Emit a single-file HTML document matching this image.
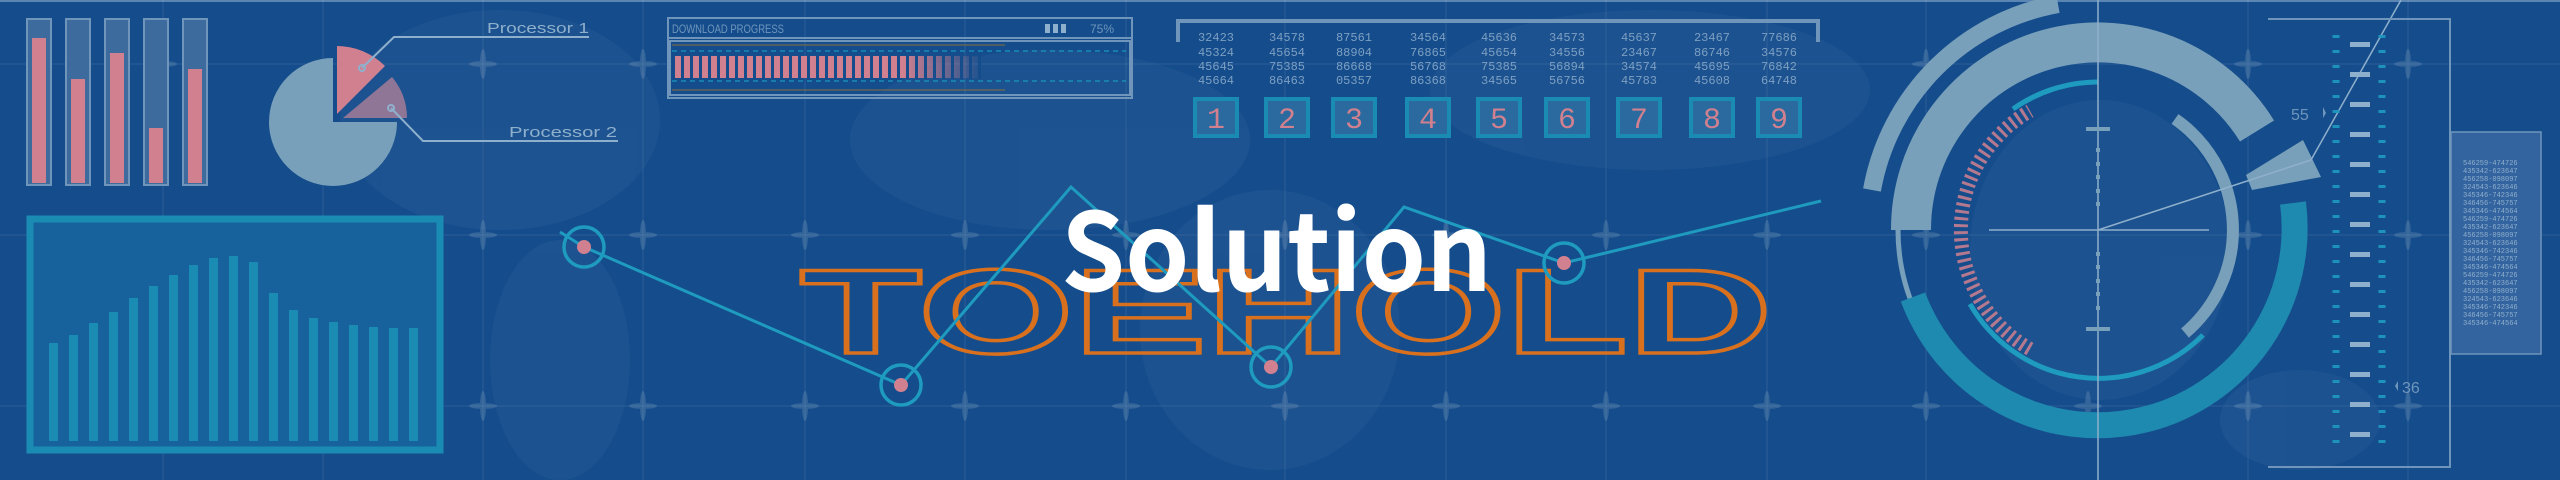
<!DOCTYPE html>
<html><head><meta charset="utf-8"><style>
html,body{margin:0;padding:0;background:#154d8c;}
svg{display:block;}
</style></head><body>
<svg width="2560" height="480" viewBox="0 0 2560 480" xmlns="http://www.w3.org/2000/svg" font-family="Liberation Sans, sans-serif">
<rect width="2560" height="480" fill="#154d8c"/>
<!-- faint map blobs -->
<g fill="#ffffff" opacity="0.03">
<ellipse cx="500" cy="120" rx="160" ry="110"/>
<ellipse cx="560" cy="360" rx="70" ry="120"/>
<ellipse cx="1050" cy="140" rx="200" ry="90"/>
<ellipse cx="1270" cy="330" rx="130" ry="140"/>
<ellipse cx="1650" cy="90" rx="220" ry="80"/>
<ellipse cx="2100" cy="250" rx="130" ry="150"/>
<ellipse cx="2300" cy="420" rx="80" ry="50"/>
</g>
<rect x="0" y="0" width="2560" height="2" fill="#5b86b4"/>
<!-- grid -->
<g stroke="#ffffff" stroke-opacity="0.09" stroke-width="1">
<line x1="0" y1="64" x2="2560" y2="64"/><line x1="0" y1="235" x2="2560" y2="235"/><line x1="0" y1="406" x2="2560" y2="406"/>
<line x1="163" y1="0" x2="163" y2="480"/><line x1="323" y1="0" x2="323" y2="480"/><line x1="483" y1="0" x2="483" y2="480"/><line x1="643" y1="0" x2="643" y2="480"/><line x1="805" y1="0" x2="805" y2="480"/><line x1="965" y1="0" x2="965" y2="480"/><line x1="1126" y1="0" x2="1126" y2="480"/><line x1="1285" y1="0" x2="1285" y2="480"/><line x1="1446" y1="0" x2="1446" y2="480"/><line x1="1606" y1="0" x2="1606" y2="480"/><line x1="1767" y1="0" x2="1767" y2="480"/><line x1="1926" y1="0" x2="1926" y2="480"/><line x1="2098" y1="0" x2="2098" y2="480"/><line x1="2248" y1="0" x2="2248" y2="480"/><line x1="2408" y1="0" x2="2408" y2="480"/>
</g>
<defs>
<g id="st"><ellipse cx="0" cy="0" rx="14" ry="3"/><ellipse cx="0" cy="0" rx="3" ry="15"/></g>
<linearGradient id="pg" x1="0" x2="1"><stop offset="0" stop-color="#d0808f"/><stop offset="0.75" stop-color="#d0808f"/><stop offset="1" stop-color="#d0808f" stop-opacity="0"/></linearGradient>
</defs>
<g fill="#ffffff" opacity="0.13">
<use href="#st" x="163" y="64"/><use href="#st" x="483" y="64"/><use href="#st" x="643" y="64"/><use href="#st" x="163" y="235"/><use href="#st" x="323" y="235"/><use href="#st" x="483" y="235"/><use href="#st" x="643" y="235"/><use href="#st" x="483" y="406"/><use href="#st" x="643" y="406"/><use href="#st" x="163" y="406"/><use href="#st" x="323" y="406"/>
<use href="#st" x="805" y="235"/><use href="#st" x="965" y="235"/><use href="#st" x="1126" y="235"/><use href="#st" x="1285" y="235"/><use href="#st" x="1446" y="235"/><use href="#st" x="1606" y="235"/><use href="#st" x="1767" y="235"/>
<use href="#st" x="805" y="406"/><use href="#st" x="965" y="406"/><use href="#st" x="1126" y="406"/><use href="#st" x="1285" y="406"/><use href="#st" x="1446" y="406"/><use href="#st" x="1606" y="406"/><use href="#st" x="1767" y="406"/>
<use href="#st" x="1926" y="64"/><use href="#st" x="2248" y="64"/><use href="#st" x="2408" y="64"/><use href="#st" x="1926" y="235"/><use href="#st" x="2248" y="235"/><use href="#st" x="2408" y="235"/><use href="#st" x="1926" y="406"/><use href="#st" x="2248" y="406"/><use href="#st" x="2408" y="406"/><use href="#st" x="2088" y="406"/>
</g>

<!-- left bars -->
<g fill="#3d6b9d" stroke="#6f95bb" stroke-width="2">
<rect x="27" y="19" width="24" height="166"/><rect x="66" y="19" width="24" height="166"/><rect x="105" y="19" width="24" height="166"/><rect x="144" y="19" width="24" height="166"/><rect x="183" y="19" width="24" height="166"/>
</g>
<g fill="#d0808f">
<rect x="32" y="38" width="14" height="145"/><rect x="71" y="79" width="14" height="104"/><rect x="110" y="53" width="14" height="130"/><rect x="149" y="128" width="14" height="55"/><rect x="188" y="69" width="14" height="114"/>
</g>

<!-- pie -->
<path d="M333,122 L397,122 A64,64 0 1 1 333,58 Z" fill="#79a0ba"/>
<path d="M337,114 L337,46 A68,68 0 0 1 385,66 Z" fill="#d0808f"/>
<path d="M343,118 L392,77 A64,64 0 0 1 407,118 Z" fill="#8f7596"/>
<g stroke="#8fb0cc" stroke-width="2" fill="none">
<polyline points="362,68 394,37 589,37"/><circle cx="362" cy="68" r="3"/>
<polyline points="391,108 423,141 618,141"/><circle cx="391" cy="108" r="3"/>
</g>
<g fill="#8fb0cc" font-size="15">
<text x="487" y="33" textLength="102" lengthAdjust="spacingAndGlyphs">Processor 1</text>
<text x="509" y="137" textLength="108" lengthAdjust="spacingAndGlyphs">Processor 2</text>
</g>

<!-- area chart -->
<rect x="30" y="219" width="410" height="231" fill="#17629c" stroke="#1a8cb4" stroke-width="7"/>
<g fill="#1a8cb4">
<rect x="49" y="343" width="9" height="98"/><rect x="69" y="335" width="9" height="106"/><rect x="89" y="323" width="9" height="118"/><rect x="109" y="312" width="9" height="129"/><rect x="129" y="298" width="9" height="143"/><rect x="149" y="286" width="9" height="155"/><rect x="169" y="275" width="9" height="166"/><rect x="189" y="265" width="9" height="176"/><rect x="209" y="258" width="9" height="183"/><rect x="229" y="256" width="9" height="185"/><rect x="249" y="262" width="9" height="179"/><rect x="269" y="293" width="9" height="148"/><rect x="289" y="310" width="9" height="131"/><rect x="309" y="318" width="9" height="123"/><rect x="329" y="322" width="9" height="119"/><rect x="349" y="325" width="9" height="116"/><rect x="369" y="327" width="9" height="114"/><rect x="389" y="328" width="9" height="113"/><rect x="409" y="328" width="9" height="113"/>
</g>

<!-- download progress -->
<g stroke="#6f95bb" stroke-width="2" fill="none">
<rect x="668" y="18" width="464" height="80"/><line x1="668" y1="38" x2="1132" y2="38"/><rect x="670" y="41" width="460" height="54"/>
</g>
<text x="672" y="33" font-size="12" fill="#6f95bb" textLength="112" lengthAdjust="spacingAndGlyphs">DOWNLOAD PROGRESS</text>
<g fill="#8fb0cc"><rect x="1045" y="24" width="5" height="9"/><rect x="1053" y="24" width="5" height="9"/><rect x="1061" y="24" width="5" height="9"/></g>
<text x="1090" y="33" font-size="12" fill="#6f95bb">75%</text>
<line x1="672" y1="45" x2="1005" y2="45" stroke="#8a6f3a" stroke-width="1"/>
<line x1="672" y1="90" x2="1005" y2="90" stroke="#8a6f3a" stroke-width="1"/>
<line x1="672" y1="51" x2="1126" y2="51" stroke="#1a8cb4" stroke-width="1.5" stroke-dasharray="5 4"/>
<line x1="672" y1="81" x2="1126" y2="81" stroke="#1a8cb4" stroke-width="1.5" stroke-dasharray="5 4"/>
<rect x="672" y="56" width="310" height="22" fill="url(#pg)"/>
<line x1="672" y1="67" x2="982" y2="67" stroke="#154d8c" stroke-width="24" stroke-dasharray="3 6"/>

<!-- number grid -->
<polyline points="1178,42 1178,21 1818,21 1818,42" fill="none" stroke="#6f95bb" stroke-width="4"/>
<g fill="#7d9fc2" font-size="12" font-family="Liberation Mono, monospace" text-anchor="middle">
<text x="1216" y="41">32423</text><text x="1287" y="41">34578</text><text x="1354" y="41">87561</text><text x="1428" y="41">34564</text><text x="1499" y="41">45636</text><text x="1567" y="41">34573</text><text x="1639" y="41">45637</text><text x="1712" y="41">23467</text><text x="1779" y="41">77686</text>
<text x="1216" y="56">45324</text><text x="1287" y="56">45654</text><text x="1354" y="56">88904</text><text x="1428" y="56">76865</text><text x="1499" y="56">45654</text><text x="1567" y="56">34556</text><text x="1639" y="56">23467</text><text x="1712" y="56">86746</text><text x="1779" y="56">34576</text>
<text x="1216" y="70">45645</text><text x="1287" y="70">75385</text><text x="1354" y="70">86668</text><text x="1428" y="70">56768</text><text x="1499" y="70">75385</text><text x="1567" y="70">56894</text><text x="1639" y="70">34574</text><text x="1712" y="70">45695</text><text x="1779" y="70">76842</text>
<text x="1216" y="84">45664</text><text x="1287" y="84">86463</text><text x="1354" y="84">05357</text><text x="1428" y="84">86368</text><text x="1499" y="84">34565</text><text x="1567" y="84">56756</text><text x="1639" y="84">45783</text><text x="1712" y="84">45608</text><text x="1779" y="84">64748</text>
</g>
<g fill="#2a6a9e" stroke="#1a8cb4" stroke-width="4">
<rect x="1195" y="99" width="42" height="37"/><rect x="1266" y="99" width="42" height="37"/><rect x="1333" y="99" width="42" height="37"/><rect x="1407" y="99" width="42" height="37"/><rect x="1478" y="99" width="42" height="37"/><rect x="1546" y="99" width="42" height="37"/><rect x="1618" y="99" width="42" height="37"/><rect x="1691" y="99" width="42" height="37"/><rect x="1758" y="99" width="42" height="37"/>
</g>
<g fill="#d0808f" font-size="30" text-anchor="middle" font-family="Liberation Mono, monospace">
<text x="1216" y="128">1</text><text x="1287" y="128">2</text><text x="1354" y="128">3</text><text x="1428" y="128">4</text><text x="1499" y="128">5</text><text x="1567" y="128">6</text><text x="1639" y="128">7</text><text x="1712" y="128">8</text><text x="1779" y="128">9</text>
</g>

<!-- TOEHOLD outline -->
<text x="800" y="353" font-size="120" font-weight="bold" fill="none" stroke="#d8701e" stroke-width="3.5" textLength="972" lengthAdjust="spacingAndGlyphs" font-family="Liberation Sans, sans-serif">TOEHOLD</text>

<!-- connected points -->
<polyline points="560,232 584,247 901,385 1071,187 1271,367 1404,207 1564,263 1821,201" fill="none" stroke="#1e9bbf" stroke-width="3"/>
<g fill="none" stroke="#1e9bbf" stroke-width="3.5">
<circle cx="584" cy="247" r="20"/><circle cx="901" cy="385" r="20"/><circle cx="1271" cy="367" r="20"/><circle cx="1564" cy="263" r="20"/>
</g>
<g fill="#d0808f">
<ellipse cx="584" cy="247" rx="7" ry="7"/><ellipse cx="901" cy="385" rx="7" ry="7"/><ellipse cx="1271" cy="367" rx="7" ry="7"/><ellipse cx="1564" cy="263" rx="7" ry="7"/>
</g>

<!-- Solution -->
<text x="1061" y="291" font-size="108" font-weight="bold" fill="#ffffff" textLength="431" lengthAdjust="spacingAndGlyphs" font-family="Noto Sans CJK SC, Liberation Sans, sans-serif">Solution</text>

<!-- target -->
<g fill="none">
<path d="M1872,190 A230,230 0 0 1 2058,4" stroke="#79a0ba" stroke-width="18"/>
<path d="M1911,230 A187,187 0 0 1 2257,131" stroke="#79a0ba" stroke-width="40"/>
<path d="M1898,230 A200,200 0 0 0 2133,427" stroke="#79a0ba" stroke-width="5"/>
<path d="M2293,203 A197,197 0 0 1 1913,297" stroke="#1e8ab0" stroke-width="26"/>
<path d="M2175,119 A135,135 0 0 1 2185,333" stroke="#79a0ba" stroke-width="12"/>
<path d="M2013,109 A148,148 0 0 1 2098,82" stroke="#1e9bbf" stroke-width="5"/>
<path d="M2203,335 A148,148 0 0 1 1970,304" stroke="#1e9bbf" stroke-width="5"/>
<path d="M2030,349 A137,137 0 0 1 2030,111" stroke="#d0808f" stroke-width="14" stroke-dasharray="3 4" opacity="0.85"/>
</g>
<polygon points="2246,175 2303,140 2321,177 2252,190" fill="#79a0ba"/>
<g stroke="#8fb0cc" stroke-width="1.5">
<line x1="1989" y1="230" x2="2209" y2="230"/>
<line x1="2098" y1="230" x2="2311" y2="160"/>
<line x1="2311" y1="160" x2="2401" y2="0"/>
<line x1="2098" y1="0" x2="2098" y2="480"/>
</g>
<g fill="#79a0ba">
<rect x="2086" y="127" width="24" height="4"/><rect x="2086" y="327" width="24" height="4"/>
<rect x="2096" y="148" width="4" height="4"/><rect x="2096" y="162" width="4" height="4"/><rect x="2096" y="175" width="4" height="4"/><rect x="2096" y="189" width="4" height="4"/><rect x="2096" y="202" width="4" height="4"/>
<rect x="2096" y="252" width="4" height="4"/><rect x="2096" y="265" width="4" height="4"/><rect x="2096" y="279" width="4" height="4"/><rect x="2096" y="292" width="4" height="4"/><rect x="2096" y="306" width="4" height="4"/>
</g>

<!-- scale ruler -->
<g stroke="#1e9bbf" opacity="0.9">
<line x1="2336" y1="35" x2="2336" y2="450" stroke-width="7" stroke-dasharray="3 12"/>
<line x1="2382" y1="35" x2="2382" y2="450" stroke-width="7" stroke-dasharray="3 12"/>
</g>
<line x1="2360" y1="42" x2="2360" y2="450" stroke="#8fb0cc" stroke-width="20" stroke-dasharray="5 25"/>
<polyline points="2268,19 2450,19 2450,467 2268,467" fill="none" stroke="#6f95bb" stroke-width="2"/>
<text x="2291" y="120" font-size="16" fill="#6f95bb">55</text>
<polygon points="2323,107 2326,113 2323,118" fill="#6f95bb"/>
<text x="2402" y="393" font-size="16" fill="#6f95bb">36</text>
<polygon points="2398,381 2395,386 2398,391" fill="#6f95bb"/>

<!-- data panel -->
<rect x="2451" y="132" width="90" height="222" fill="#3464a0" stroke="#6f95bb" stroke-width="1.5"/>
<g fill="#8fb0cc" font-size="7" font-family="Liberation Mono, monospace">
<text x="2463" y="165">546259-474726</text><text x="2463" y="173">435342-623647</text><text x="2463" y="181">456258-098097</text><text x="2463" y="189">324543-623646</text><text x="2463" y="197">345346-742346</text><text x="2463" y="205">346456-745757</text><text x="2463" y="213">345346-474564</text>
<text x="2463" y="221">546259-474726</text><text x="2463" y="229">435342-623647</text><text x="2463" y="237">456258-098097</text><text x="2463" y="245">324543-623646</text><text x="2463" y="253">345346-742346</text><text x="2463" y="261">346456-745757</text><text x="2463" y="269">345346-474564</text>
<text x="2463" y="277">546259-474726</text><text x="2463" y="285">435342-623647</text><text x="2463" y="293">456258-098097</text><text x="2463" y="301">324543-623646</text><text x="2463" y="309">345346-742346</text><text x="2463" y="317">346456-745757</text><text x="2463" y="325">345346-474564</text>
</g>
</svg>
</body></html>
